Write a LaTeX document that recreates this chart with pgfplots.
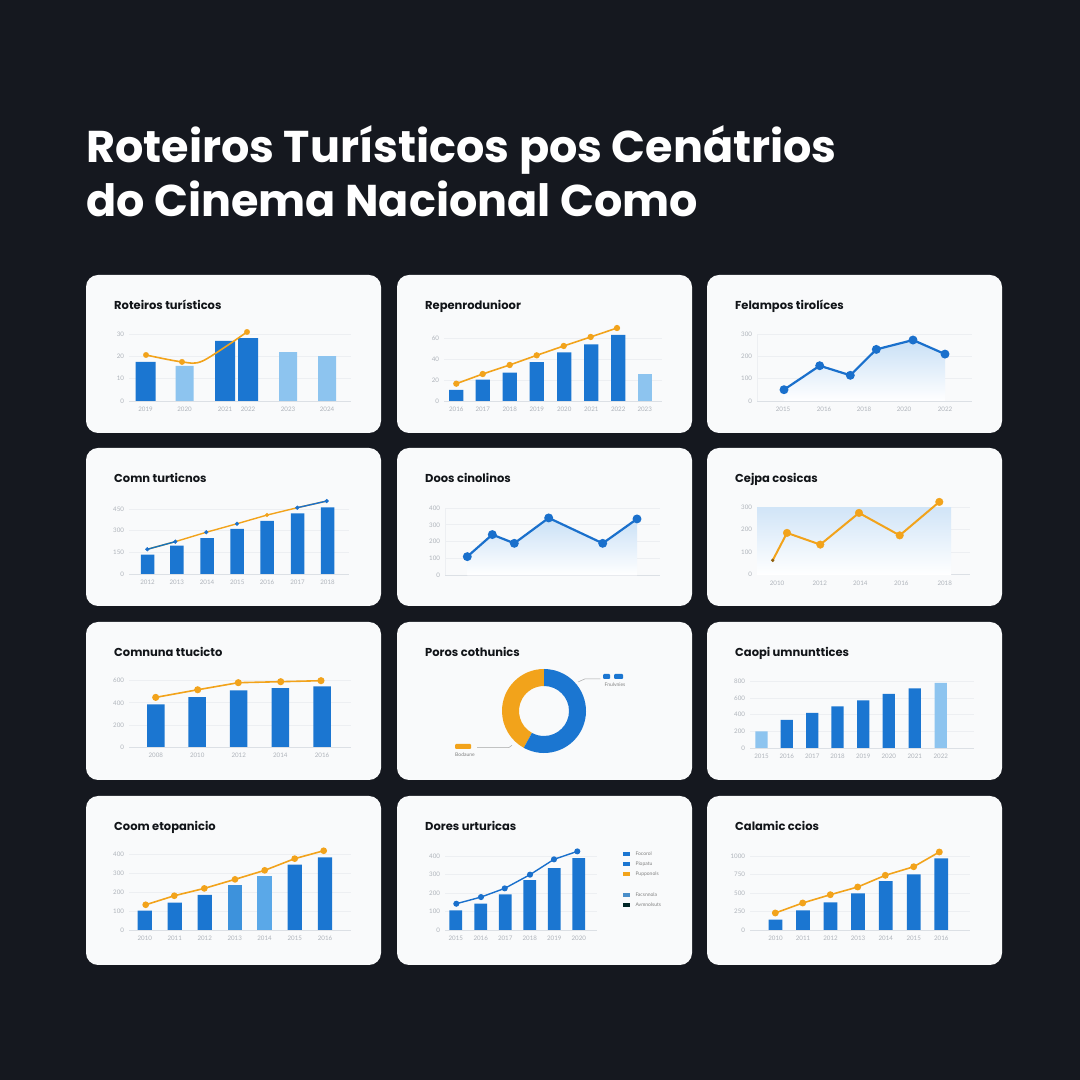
\documentclass[border=0pt]{standalone}
\usepackage{pgfplots}
\pgfplotsset{compat=1.18}
\usepackage{fontspec}
\setmainfont{Lato}
\newfontfamily\popp{Poppins}
\definecolor{bg}{HTML}{15181F}
\definecolor{card}{HTML}{F9FAFB}
\definecolor{dblue}{HTML}{1B76D1}
\definecolor{lblue}{HTML}{8DC4EF}
\definecolor{mblue}{HTML}{3D92DC}
\definecolor{m2blue}{HTML}{5AA8E8}
\definecolor{lineblue}{HTML}{1A70CC}
\definecolor{orng}{HTML}{F2A31B}
\definecolor{areablue}{HTML}{C9E0F6}
\definecolor{tickgray}{HTML}{AEB3BA}
\definecolor{gridgray}{HTML}{EDEFF2}
\definecolor{basegray}{HTML}{DCE0E5}
\definecolor{ttl}{HTML}{111418}
\pgfplotsset{
  cardax/.style={
    scale only axis, clip=false, anchor=south west,
    axis lines*=left, separate axis lines,
    x axis line style={draw=basegray, line width=0.8pt},
    y axis line style={draw=none},
    ymin=0,
    ymajorgrids, grid style={draw=gridgray, line width=0.7pt},
    major tick length=0pt,
    tick style={draw=none},
    ticklabel style={font=\fontsize{6.2}{7}\selectfont, text=tickgray},
    yticklabel style={xshift=-1.5pt},
    xticklabel style={yshift=-2.5pt},
  },
  vline/.style={y axis line style={draw=gridgray, line width=0.7pt}},
  bars/.style={ybar, bar shift=0pt, draw=none, fill=#1},
  oline/.style={draw=orng, line width=1.6pt, mark=*, mark size=2.6pt, mark options={fill=orng, draw=orng}},
  bline/.style={draw=lineblue, line width=1.6pt, mark=*, mark size=2.4pt, mark options={fill=lineblue, draw=lineblue}},
}
\newcommand{\card}[4]{\fill[card, rounded corners=12pt] (#1,{1080-#2}) rectangle ({#1+#3},{1080-#2-#4});}
\newcommand{\ctitle}[3]{\node[anchor=base west, inner sep=0pt, font=\popp\fontsize{11.5}{14}\selectfont\bfseries, text=ttl] at ({#1+28},{1080-#2-35}) {#3};}
\begin{document}
\begin{tikzpicture}[x=1pt,y=1pt]
\fill[bg] (0,0) rectangle (1080,1080);
\node[anchor=base west, inner sep=0pt, font=\popp\fontsize{44.5}{50}\selectfont\bfseries, text=white] at (86,917) {Roteiros Turísticos pos Cenátrios};
\node[anchor=base west, inner sep=0pt, font=\popp\fontsize{44.5}{50}\selectfont\bfseries, text=white] at (86,863) {do Cinema Nacional Como};
% cards
\card{86}{275}{295}{158}\card{397}{275}{295}{158}\card{707}{275}{295}{158}
\card{86}{448}{295}{158}\card{397}{448}{295}{158}\card{707}{448}{295}{158}
\card{86}{622}{295}{158}\card{397}{622}{295}{158}\card{707}{622}{295}{158}
\card{86}{796}{295}{169}\card{397}{796}{295}{169}\card{707}{796}{295}{169}
\ctitle{86}{275}{Roteiros turísticos}
\ctitle{397}{275}{Repenrodunioor}
\ctitle{707}{275}{Felampos tirolíces}
\ctitle{86}{448}{Comn turticnos}
\ctitle{397}{448}{Doos cinolinos}
\ctitle{707}{448}{Cejpa cosicas}
\ctitle{86}{622}{Comnuna ttucicto}
\ctitle{397}{622}{Poros cothunics}
\ctitle{707}{622}{Caopi umnunttices}
\ctitle{86}{796}{Coom etopanicio}
\ctitle{397}{796}{Dores urturicas}
\ctitle{707}{796}{Calamic ccios}

% C1
\begin{axis}[cardax, at={(129pt,679pt)}, width=222pt, height=67pt, xmin=43, xmax=265, ymax=30,
  ytick={0,10,20,30}, yticklabels={0,10,20,30},
  xtick={59.5,98.5,139,162,202,241}, xticklabels={2019,2020,2021,2022,2023,2024}]
\addplot[bars=dblue, bar width=20pt] coordinates {(59.5,17.5)(139,26.9)(162,28.2)};
\addplot[bars=lblue, bar width=18pt] coordinates {(98.5,15.7)(202,21.9)(241,20.1)};
\addplot[draw=orng, line width=1.6pt, smooth, tension=0.5] coordinates {(60,20.6)(96,17.5)(117,18)(161,30.9)};
\addplot[only marks, mark=*, mark size=2.7pt, orng] coordinates {(60,20.6)(96,17.5)(161,30.9)};
\end{axis}

% C2
\begin{axis}[cardax, at={(444pt,679pt)}, width=218pt, height=63pt, xmin=47, xmax=265, ymax=60,
  ytick={0,20,40,60}, yticklabels={0,20,40,60},
  xtick={59.3,85.7,112.7,139.8,167.2,194.3,221.2,247.7}, xticklabels={2016,2017,2018,2019,2020,2021,2022,2023}]
\addplot[bars=dblue, bar width=14.3pt] coordinates {(59.3,10.5)(85.7,20.3)(112.7,27)(139.8,37.1)(167.2,46.4)(194.3,54)(221.2,62.9)};
\addplot[bars=lblue, bar width=14.3pt] coordinates {(247.7,25.7)};
\addplot[oline, mark size=2.3pt] coordinates {(59.3,16.5)(85.7,25.7)(112.7,34.3)(139.7,43.5)(166.7,52.4)(193.7,61)(220,69.5)};
\end{axis}

% C3
\begin{axis}[cardax, vline, at={(757pt,679pt)}, width=215pt, height=67pt, xmin=50, xmax=265, ymax=300,
  ytick={0,100,200,300}, yticklabels={0,100,200,300},
  xtick={76,117,157,197,238}, xticklabels={2015,2016,2018,2020,2022}]
\addplot[draw=none, top color=areablue, bottom color=white] coordinates {(77,50.6)(112.7,158)(143.3,115)(169.3,231)(206,273)(238,210)} \closedcycle;
\addplot[bline, line width=2.2pt, mark size=3.3pt] coordinates {(77,50.6)(112.7,158)(143.3,115)(169.3,231)(206,273)(238,210)};
\end{axis}

% C4
\begin{axis}[cardax, at={(129pt,506pt)}, width=220pt, height=65pt, xmin=43, xmax=263, ymax=450,
  ytick={0,150,300,450}, yticklabels={0,150,300,450},
  xtick={61.5,90.8,121,151.2,181,211.5,241.5}, xticklabels={2012,2013,2014,2015,2016,2017,2018}]
\addplot[bars=dblue, bar width=13.5pt] coordinates {(61.5,134)(90.8,196)(121,249)(151.2,312)(181,367)(211.5,420)(241.5,462)};
\addplot[draw=orng, line width=1.4pt] coordinates {(61.3,171)(89.3,224)(120.3,289)(151,348)(181,408)(211.3,459)(240.7,505)};
\addplot[draw=lineblue!80!teal, line width=1.4pt] coordinates {(61.3,171)(89.3,224)};
\addplot[draw=lineblue, line width=1.4pt] coordinates {(211.3,459)(240.7,505)};
\addplot[only marks, mark=*, mark size=1.9pt, lineblue] coordinates {(61.3,171)(89.3,224)(120.3,289)(151,348)(211.3,459)(240.7,505)};
\addplot[only marks, mark=*, mark size=1.9pt, orng] coordinates {(181,408)};
\end{axis}

% C5
\begin{axis}[cardax, vline, at={(445pt,504.7pt)}, width=215pt, height=67.3pt, xmin=48, xmax=263, ymax=400,
  ytick={0,100,200,300,400}, yticklabels={0,100,200,300,400}, xtick=\empty]
\addplot[draw=none, top color=areablue, bottom color=white] coordinates {(70.3,111)(95.3,242)(117.3,190)(151.7,341)(205.7,190)(240,335)} \closedcycle;
\addplot[bline, line width=2.2pt, mark size=3.3pt] coordinates {(70.3,111)(95.3,242)(117.3,190)(151.7,341)(205.7,190)(240,335)};
\end{axis}

% C6
\begin{axis}[cardax, vline, at={(757pt,505.3pt)}, width=213pt, height=67.4pt, xmin=50, xmax=263, ymax=300,
  ytick={0,100,200,300}, yticklabels={0,100,200,300},
  xtick={70,112.7,153.3,194.3,237.7}, xticklabels={2010,2012,2014,2016,2018}]
\addplot[draw=none, top color=areablue!85, bottom color=white] coordinates {(50,300)(244,300)} \closedcycle;
\addplot[draw=orng, line width=2pt] coordinates {(65.7,64)(80,186)(113.3,134)(152,275)(192.7,175)(232.3,324)};
\addplot[only marks, mark=*, mark size=3.8pt, orng] coordinates {(80,186)(113.3,134)(152,275)(192.7,175)(232.3,324)};
\addplot[only marks, mark=*, mark size=1.5pt, orng!60!black] coordinates {(65.7,64)};
\end{axis}

% C7
\begin{axis}[cardax, at={(129pt,333pt)}, width=222pt, height=66.3pt, xmin=43, xmax=265, ymax=600,
  ytick={0,200,400,600}, yticklabels={0,200,400,600},
  xtick={69.8,111.2,152.7,194.3,236}, xticklabels={2008,2010,2012,2014,2016}]
\addplot[bars=dblue, bar width=17.5pt] coordinates {(69.8,386)(111.2,452)(152.7,513)(194.3,533)(236,549)};
\addplot[oline, mark size=2.7pt] coordinates {(69.7,449)(111.7,518)(152.3,582)(194.7,591)(235,600)};
\end{axis}

% C8 donut
\begin{scope}[shift={(544,369)}]
\def\pa{42}
\pgfmathsetmacro\ea{90+3.6*\pa}
\fill[orng] (90:42) arc[start angle=90, end angle=\ea, radius=42] -- (\ea:25) arc[start angle=\ea, end angle=90, radius=25] -- cycle;
\fill[dblue] (\ea:42) arc[start angle=\ea, end angle=450, radius=42] -- (90:25) arc[start angle=450, end angle=\ea, radius=25] -- cycle;
\end{scope}
\draw[gray!70, line width=0.5pt] (578,398) -- (584.7,401) -- (600.3,401);
\fill[dblue, rounded corners=1pt] (603,401) rectangle (610,406);
\fill[dblue, rounded corners=1pt] (614,401) rectangle (623,406);
\node[font=\fontsize{5}{6}\selectfont, text=gray, inner sep=0pt] at (615,395) {Fnulvnies};
\draw[gray!70, line width=0.5pt] (477,332.3) -- (508.7,332.3) -- (512,334.7);
\fill[orng, rounded corners=1pt] (455,331) rectangle (471,336);
\node[font=\fontsize{5}{6}\selectfont, text=gray, inner sep=0pt] at (465,325) {Bodaune};

% C9
\begin{axis}[cardax, at={(750pt,332pt)}, width=224pt, height=66.7pt, xmin=43, xmax=267, ymax=800,
  ytick={0,200,400,600,800}, yticklabels={0,200,400,600,800},
  xtick={54.5,79.8,105.2,130.5,156.2,181.8,207.8,233.8}, xticklabels={2015,2016,2017,2018,2019,2020,2021,2022}]
\addplot[bars=lblue, bar width=12.3pt] coordinates {(54.5,200)(233.8,780)};
\addplot[bars=dblue, bar width=12.3pt] coordinates {(79.8,336)(105.2,420)(130.5,500)(156.2,572)(181.8,648)(207.8,716)};
\end{axis}

% C10
\begin{axis}[cardax, at={(129pt,150pt)}, width=222pt, height=75.3pt, xmin=43, xmax=265, ymax=400,
  ytick={0,100,200,300,400}, yticklabels={0,100,200,300,400},
  xtick={58.8,88.7,118.7,148.7,178.5,208.8,239}, xticklabels={2010,2011,2012,2013,2014,2015,2016}]
\addplot[bars=dblue, bar width=14.3pt] coordinates {(58.8,103)(88.7,145)(118.7,186)(208.8,347)(239,386)};
\addplot[bars=mblue, bar width=14.3pt] coordinates {(148.7,239)};
\addplot[bars=m2blue, bar width=14.3pt] coordinates {(178.5,285)};
\addplot[oline, mark size=2.5pt] coordinates {(59.7,134)(88.3,182)(118.3,221)(149,269)(178.7,317)(208.7,379)(237.7,421)};
\end{axis}

% C11
\begin{axis}[cardax, at={(445pt,150pt)}, width=152pt, height=74pt, xmin=48, xmax=200, ymax=400,
  ytick={0,100,200,300,400}, yticklabels={0,100,200,300,400},
  xtick={58.8,83.7,108.2,132.8,157.3,181.8}, xticklabels={2015,2016,2017,2018,2019,2020}]
\addplot[bars=dblue, bar width=12.7pt] coordinates {(58.8,106)(83.7,142)(108.2,193)(132.8,269)(157.3,335)(181.8,388)};
\addplot[bline, line width=1.4pt, mark size=2.3pt] coordinates {(59.3,142)(84,178)(107.7,225)(133,299)(157,382)(180.3,425)};
\end{axis}
\fill[dblue] (622.7,224) rectangle (630.3,228);
\fill[dblue] (622.7,214) rectangle (630.3,218);
\fill[orng] (622.7,204) rectangle (630.3,208);
\fill[mblue!80!gray] (622.7,183.3) rectangle (630.3,187.3);
\fill[black!70!teal] (622.7,173.3) rectangle (630.3,177.3);
\begin{scope}[every node/.style={anchor=west, inner sep=0pt, font=\fontsize{5}{6}\selectfont, text=gray}]
\node at (635.3,226) {Focorol};
\node at (635.3,216) {Piopatu};
\node at (635.3,206) {Pupponols};
\node at (635.3,185.3) {Facsnnola};
\node at (635.3,175.3) {Avmnolsuts};
\end{scope}

% C12
\begin{axis}[cardax, at={(750pt,150pt)}, width=220pt, height=74pt, xmin=43, xmax=263, ymax=1000,
  ytick={0,250,500,750,1000}, yticklabels={0,250,500,750,1000},
  xtick={68.5,96,123.5,151,178.8,206.7,234.3}, xticklabels={2010,2011,2012,2013,2014,2015,2016}]
\addplot[bars=dblue, bar width=13.7pt] coordinates {(68.5,139)(96,266)(123.5,374)(151,496)(178.8,662)(206.7,753)(234.3,969)};
\addplot[oline, mark size=2.6pt] coordinates {(68.3,230)(95.7,365)(123.3,477)(150.7,581)(178.3,739)(206.7,855)(232.3,1054)};
\end{axis}
\end{tikzpicture}
\end{document}
